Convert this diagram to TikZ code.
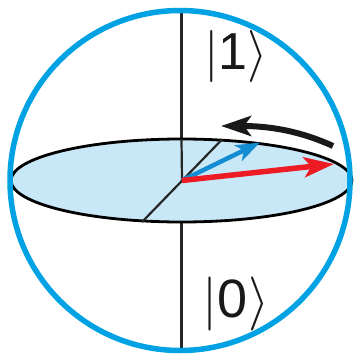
\RequirePackage{fix-cm}
\documentclass[tikz,border=0pt]{standalone}
\usepackage{fontspec}
\setmainfont{Liberation Sans}
\usetikzlibrary{arrows.meta}
\definecolor{sphere}{RGB}{0,162,227}
\definecolor{disc}{RGB}{200,232,248}
\definecolor{vecblue}{RGB}{20,140,210}
\definecolor{vecred}{RGB}{237,28,36}
\begin{document}
\begin{tikzpicture}[x=1pt,y=-1pt,
  axis/.style={line width=2.2pt, black!85},
  ket/.style={inner sep=0pt, text=black!90}]
\useasboundingbox (0,0) rectangle (357,358);
\coordinate (O) at (182,180.5);
\coordinate (N) at (181.5,10);
\coordinate (S) at (181.5,351);
\coordinate (T) at (181.5,139);
\coordinate (D1) at (222,139.5);
\coordinate (D2) at (142,222);
\coordinate (R) at (334,164);
\coordinate (B) at (260,142.5);
\coordinate (A1) at (333,146);
\coordinate (A2) at (221,126);
\draw[axis] (N) -- (S);
\draw[line width=2.8pt, fill=disc] (181.5,180.5) ellipse [x radius=170.5, y radius=41.5];
\draw[axis] (O) -- (T);
\draw[axis] (D2) -- (D1);
\draw[line width=5.5pt, sphere] (180,180.5) circle[radius=170];
\draw[line width=6pt, black!90, -{Stealth[length=30pt, width=20pt, inset=7pt]}]
  (A1) .. controls (300,131) and (270,126) .. (A2);
\draw[line width=4.5pt, vecblue, -{Stealth[length=24pt, width=17pt, inset=6pt]}] (O) -- (B);
\draw[line width=5.5pt, vecred, -{Stealth[length=30pt, width=20pt, inset=7pt]}] (O) -- (R);
\node[ket, font=\fontsize{52}{60}\selectfont] (k1) at (236,57) {$|$1$\rangle$};
\node[ket, font=\fontsize{54}{60}\selectfont] (k0) at (236,304) {$|$0$\rangle$};
\end{tikzpicture}
\end{document}
